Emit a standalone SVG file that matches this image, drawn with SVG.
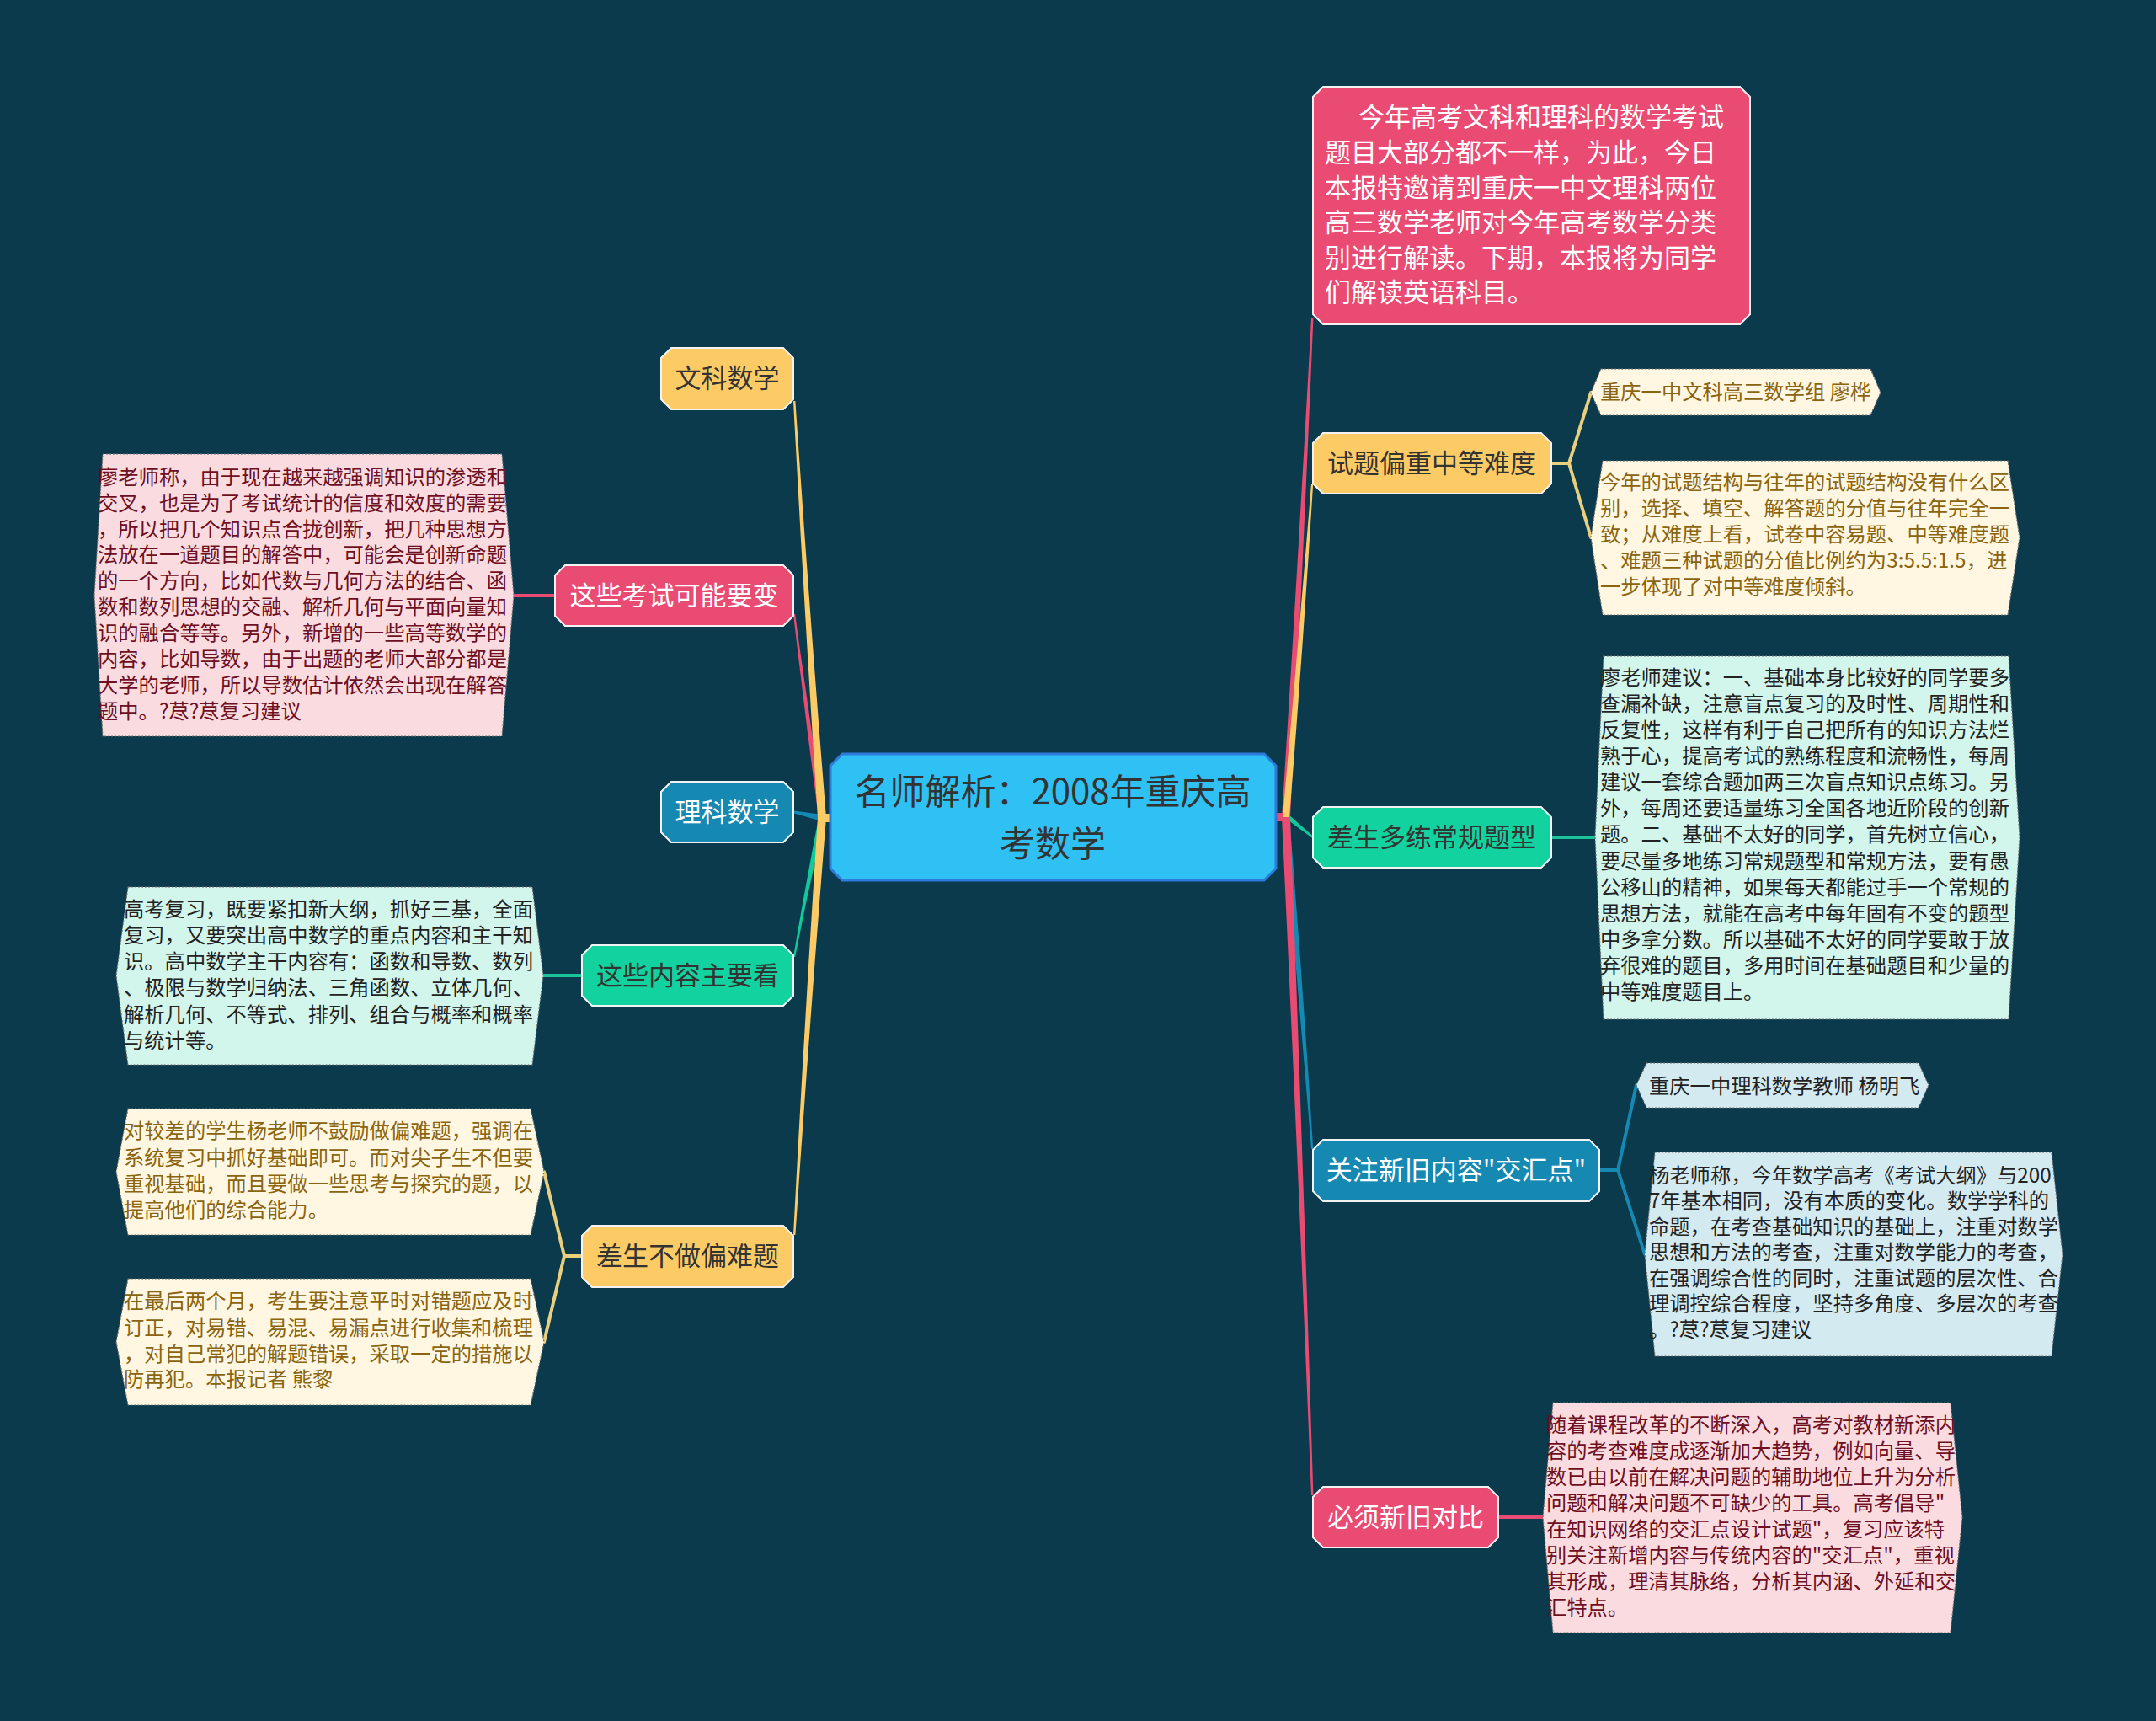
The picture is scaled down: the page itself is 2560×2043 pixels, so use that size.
<svg xmlns="http://www.w3.org/2000/svg" width="2560" height="2043" viewBox="0 0 2560 2043">
<defs>
<style>
text{font-family:"Noto Sans CJK SC","Noto Sans",sans-serif;}
.root{fill:#2fc1f4;stroke:#2d7bdb;stroke-width:3}
.rootT{font-size:42px;fill:#333;text-anchor:middle}
.n1{stroke:#f2f2f2;stroke-width:2}
.pk{fill:#e94b73}.yl{fill:#fdcb65}.gr{fill:#12d3a0}.bl{fill:#1689b3}
.t1{font-size:31px;text-anchor:middle}
.dk{fill:#333}.wh{fill:#fff}
.leaf{stroke:#6e6e6e;stroke-width:1.2;stroke-dasharray:2 2}
.lyl{fill:#fff7e1}.lgr{fill:#d2f5ec}.lbl{fill:#d4eaf1}.lpk{fill:#fadbe0}
.tl{font-size:24.3px}
.tyl{fill:#8b6410}.tgr{fill:#222}.tbl{fill:#222}.tpk{fill:#6e0f22}
.cp{fill:#e94b73}.cy{fill:#fdcb65}.cg{fill:#12c99b}.cb{fill:#1689b3}
.sp{stroke:#e94b73;stroke-width:4;fill:none;stroke-linejoin:round;stroke-linecap:round}
.sy{stroke:#ead07e;stroke-width:4;fill:none;stroke-linejoin:round;stroke-linecap:round}
.sg{stroke:#1cc39a;stroke-width:4;fill:none;stroke-linejoin:round;stroke-linecap:round}
.sb{stroke:#1689b3;stroke-width:4;fill:none;stroke-linejoin:round;stroke-linecap:round}
</style>
</defs>
<rect width="2560" height="2043" fill="#0a3a4c"/>

<g id="connectors">
  <!-- left trunk -->
  <rect x="972" y="966" width="16" height="10" class="cy"/>
  <path class="cp" d="M972,971 Q956,850 942,729 L944.2,729 Q960,850 980,971 Z"/>
  <path class="cb" d="M976,967 L943,962.5 L943,965.5 L976,975 Z"/>
  <path class="cg" d="M972,971 Q956,1053 942,1136 L944.2,1136 Q960,1053 980,971 Z"/>
  <path class="cy" d="M971,971 Q955,723 942,476 L944.4,476 Q961,723 981,971 Z"/>
  <path class="cy" d="M971,971 Q955,1218 942,1466 L944.4,1466 Q961,1218 981,971 Z"/>
  <!-- right trunk -->
  <rect x="1513" y="965" width="18" height="10" class="cp"/>
  <path class="cp" d="M1522,970 Q1541,674 1557,378 L1559.4,378 Q1547,674 1532,970 Z"/>
  <path class="cy" d="M1523,970 Q1541,772 1557,574 L1559.2,574 Q1547,772 1531,970 Z"/>
  <path class="cg" d="M1530,967 L1559,992.5 L1559,995.5 L1530,974 Z"/>
  <path class="cb" d="M1523,970 Q1541,1167 1557,1364 L1559.2,1364 Q1547,1167 1531,970 Z"/>
  <path class="cp" d="M1522,970 Q1541,1372 1557,1775 L1559.4,1775 Q1547,1372 1532,970 Z"/>
  <!-- level 1 to leaves -->
  <path class="sy" d="M1842,550 L1863,550 L1889,466 M1863,550 L1889,638"/>
  <path class="sg" d="M1842,994 L1894,994"/>
  <path class="sb" d="M1899,1389 L1921,1389 L1943,1288 M1921,1389 L1953,1489"/>
  <path class="sp" d="M1779,1801 L1832,1801"/>
  <path class="sp" d="M659,707 L610,707"/>
  <path class="sg" d="M691,1158 L645,1158"/>
  <path class="sy" d="M691,1491 L670,1491 L646,1391 M670,1491 L646,1593"/>
</g>

<g id="root">
  <polygon class="root" points="1000,895 1501,895 1515,909 1515,1031 1501,1045 1000,1045 986,1031 986,909"/>
  <text class="rootT" x="1250" y="955">名师解析：2008年重庆高</text>
  <text class="rootT" x="1250" y="1017">考数学</text>
</g>

<g id="n-intro">
  <polygon class="n1 pk" points="1571,103 2066,103 2078,115 2078,373 2066,385 1571,385 1559,373 1559,115"/>
  <g class="wh" font-size="31px">
    <text x="1613" y="150">今年高考文科和理科的数学考试</text>
    <text x="1573" y="192">题目大部分都不一样，为此，今日</text>
    <text x="1573" y="234">本报特邀请到重庆一中文理科两位</text>
    <text x="1573" y="275">高三数学老师对今年高考数学分类</text>
    <text x="1573" y="317">别进行解读。下期，本报将为同学</text>
    <text x="1573" y="358">们解读英语科目。</text>
  </g>
</g>

<g id="n-r1">
  <polygon class="n1 yl" points="1571,514 1830,514 1842,526 1842,574 1830,586 1571,586 1559,574 1559,526"/>
  <text class="t1 dk" x="1700" y="561">试题偏重中等难度</text>
</g>
<g id="leaf-r1a">
  <polygon class="leaf lyl" points="1901,438 2221,438 2233,466 2221,493 1901,493 1889,466"/>
  <text class="tl tyl" x="1900" y="474">重庆一中文科高三数学组 廖桦</text>
</g>
<g id="leaf-r1b">
  <polygon class="leaf lyl" points="1903,547 2384,547 2398,638 2384,730 1903,730 1889,638"/>
  <g class="tl tyl">
    <text x="1900" y="581">今年的试题结构与往年的试题结构没有什么区</text>
    <text x="1900" y="612">别，选择、填空、解答题的分值与往年完全一</text>
    <text x="1900" y="643">致；从难度上看，试卷中容易题、中等难度题</text>
    <text x="1900" y="674">、难题三种试题的分值比例约为3:5.5:1.5，进</text>
    <text x="1900" y="705">一步体现了对中等难度倾斜。</text>
  </g>
</g>

<g id="n-r2">
  <polygon class="n1 gr" points="1571,958 1830,958 1842,970 1842,1018 1830,1030 1571,1030 1559,1018 1559,970"/>
  <text class="t1 dk" x="1700" y="1005">差生多练常规题型</text>
</g>
<g id="leaf-r2">
  <polygon class="leaf lgr" points="1904,779 2385,779 2398,994 2385,1210 1904,1210 1894,994"/>
  <g class="tl tgr">
    <text x="1900" y="813">廖老师建议：一、基础本身比较好的同学要多</text>
    <text x="1900" y="844">查漏补缺，注意盲点复习的及时性、周期性和</text>
    <text x="1900" y="875">反复性，这样有利于自己把所有的知识方法烂</text>
    <text x="1900" y="906">熟于心，提高考试的熟练程度和流畅性，每周</text>
    <text x="1900" y="937">建议一套综合题加两三次盲点知识点练习。另</text>
    <text x="1900" y="968">外，每周还要适量练习全国各地近阶段的创新</text>
    <text x="1900" y="999">题。二、基础不太好的同学，首先树立信心，</text>
    <text x="1900" y="1031">要尽量多地练习常规题型和常规方法，要有愚</text>
    <text x="1900" y="1062">公移山的精神，如果每天都能过手一个常规的</text>
    <text x="1900" y="1093">思想方法，就能在高考中每年固有不变的题型</text>
    <text x="1900" y="1124">中多拿分数。所以基础不太好的同学要敢于放</text>
    <text x="1900" y="1155">弃很难的题目，多用时间在基础题目和少量的</text>
    <text x="1900" y="1186">中等难度题目上。</text>
  </g>
</g>

<g id="n-r3">
  <polygon class="n1 bl" points="1571,1353 1887,1353 1899,1365 1899,1414 1887,1426 1571,1426 1559,1414 1559,1365"/>
  <text class="t1 wh" x="1729" y="1400">关注新旧内容"交汇点"</text>
</g>
<g id="leaf-r3a">
  <polygon class="leaf lbl" points="1955,1262 2278,1262 2290,1288 2278,1315 1955,1315 1943,1288"/>
  <text class="tl tbl" x="1958" y="1298">重庆一中理科数学教师 杨明飞</text>
</g>
<g id="leaf-r3b">
  <polygon class="leaf lbl" points="1965,1368 2436,1368 2449,1489 2436,1610 1965,1610 1953,1489"/>
  <g class="tl tbl">
    <text x="1958" y="1404">杨老师称，今年数学高考《考试大纲》与200</text>
    <text x="1958" y="1434">7年基本相同，没有本质的变化。数学学科的</text>
    <text x="1958" y="1465">命题，在考查基础知识的基础上，注重对数学</text>
    <text x="1958" y="1495">思想和方法的考查，注重对数学能力的考查，</text>
    <text x="1958" y="1526">在强调综合性的同时，注重试题的层次性、合</text>
    <text x="1958" y="1556">理调控综合程度，坚持多角度、多层次的考查</text>
    <text x="1958" y="1587">。?荩?荩复习建议</text>
  </g>
</g>

<g id="n-r4">
  <polygon class="n1 pk" points="1571,1765 1767,1765 1779,1777 1779,1825 1767,1837 1571,1837 1559,1825 1559,1777"/>
  <text class="t1 wh" x="1669" y="1812">必须新旧对比</text>
</g>
<g id="leaf-r4">
  <polygon class="leaf lpk" points="1844,1665 2316,1665 2330,1801 2316,1938 1844,1938 1832,1801"/>
  <g class="tl tpk">
    <text x="1836" y="1700">随着课程改革的不断深入，高考对教材新添内</text>
    <text x="1836" y="1731">容的考查难度成逐渐加大趋势，例如向量、导</text>
    <text x="1836" y="1762">数已由以前在解决问题的辅助地位上升为分析</text>
    <text x="1836" y="1793">问题和解决问题不可缺少的工具。高考倡导"</text>
    <text x="1836" y="1824">在知识网络的交汇点设计试题"，复习应该特</text>
    <text x="1836" y="1855">别关注新增内容与传统内容的"交汇点"，重视</text>
    <text x="1836" y="1886">其形成，理清其脉络，分析其内涵、外延和交</text>
    <text x="1836" y="1917">汇特点。</text>
  </g>
</g>

<g id="n-l0">
  <polygon class="n1 yl" points="797,413 930,413 942,425 942,474 930,486 797,486 785,474 785,425"/>
  <text class="t1 dk" x="863.5" y="460">文科数学</text>
</g>

<g id="n-l1">
  <polygon class="n1 pk" points="671,671 930,671 942,683 942,731 930,743 671,743 659,731 659,683"/>
  <text class="t1 wh" x="800.5" y="718">这些考试可能要变</text>
</g>
<g id="leaf-l1">
  <polygon class="leaf lpk" points="122,539 596,539 610,707 596,874 122,874 112,707"/>
  <g class="tl tpk">
    <text x="116" y="575">廖老师称，由于现在越来越强调知识的渗透和</text>
    <text x="116" y="606">交叉，也是为了考试统计的信度和效度的需要</text>
    <text x="116" y="637">，所以把几个知识点合拢创新，把几种思想方</text>
    <text x="116" y="667">法放在一道题目的解答中，可能会是创新命题</text>
    <text x="116" y="698">的一个方向，比如代数与几何方法的结合、函</text>
    <text x="116" y="729">数和数列思想的交融、解析几何与平面向量知</text>
    <text x="116" y="760">识的融合等等。另外，新增的一些高等数学的</text>
    <text x="116" y="791">内容，比如导数，由于出题的老师大部分都是</text>
    <text x="116" y="822">大学的老师，所以导数估计依然会出现在解答</text>
    <text x="116" y="853">题中。?荩?荩复习建议</text>
  </g>
</g>

<g id="n-l2">
  <polygon class="n1 bl" points="797,928 930,928 942,940 942,988 930,1000 797,1000 785,988 785,940"/>
  <text class="t1 wh" x="863.5" y="975">理科数学</text>
</g>

<g id="n-l3">
  <polygon class="n1 gr" points="703,1122 930,1122 942,1134 942,1182 930,1194 703,1194 691,1182 691,1134"/>
  <text class="t1 dk" x="816.5" y="1169">这些内容主要看</text>
</g>
<g id="leaf-l3">
  <polygon class="leaf lgr" points="152,1053 632,1053 645,1158 632,1264 152,1264 138,1158"/>
  <g class="tl tgr">
    <text x="147" y="1088">高考复习，既要紧扣新大纲，抓好三基，全面</text>
    <text x="147" y="1119">复习，又要突出高中数学的重点内容和主干知</text>
    <text x="147" y="1150">识。高中数学主干内容有：函数和导数、数列</text>
    <text x="147" y="1181">、极限与数学归纳法、三角函数、立体几何、</text>
    <text x="147" y="1213">解析几何、不等式、排列、组合与概率和概率</text>
    <text x="147" y="1244">与统计等。</text>
  </g>
</g>

<g id="n-l4">
  <polygon class="n1 yl" points="703,1455 930,1455 942,1467 942,1516 930,1528 703,1528 691,1516 691,1467"/>
  <text class="t1 dk" x="816.5" y="1502">差生不做偏难题</text>
</g>
<g id="leaf-l4a">
  <polygon class="leaf lyl" points="152,1316 630,1316 646,1391 630,1466 152,1466 138,1391"/>
  <g class="tl tyl">
    <text x="147" y="1351">对较差的学生杨老师不鼓励做偏难题，强调在</text>
    <text x="147" y="1383">系统复习中抓好基础即可。而对尖子生不但要</text>
    <text x="147" y="1414">重视基础，而且要做一些思考与探究的题，以</text>
    <text x="147" y="1445">提高他们的综合能力。</text>
  </g>
</g>
<g id="leaf-l4b">
  <polygon class="leaf lyl" points="152,1518 630,1518 646,1593 630,1668 152,1668 138,1593"/>
  <g class="tl tyl">
    <text x="147" y="1553">在最后两个月，考生要注意平时对错题应及时</text>
    <text x="147" y="1585">订正，对易错、易混、易漏点进行收集和梳理</text>
    <text x="147" y="1616">，对自己常犯的解题错误，采取一定的措施以</text>
    <text x="147" y="1646">防再犯。本报记者 熊黎</text>
  </g>
</g>
</svg>
